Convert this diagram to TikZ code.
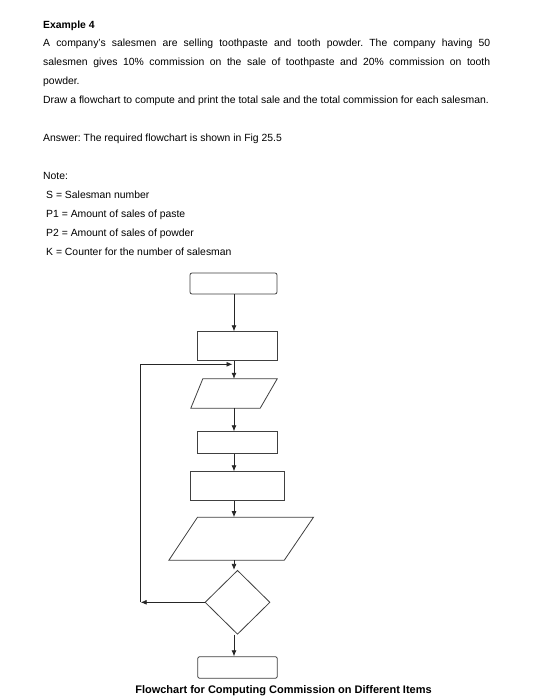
\documentclass[tikz,border=0pt]{standalone}
\usepackage{fontspec}
\setmainfont{Liberation Sans}
\usetikzlibrary{shapes.geometric,arrows.meta}
\frenchspacing
\begin{document}
\begin{tikzpicture}[x=1pt,y=-1pt,
  txt/.style={anchor=base west,inner sep=0pt,font=\fontsize{10.4}{12}\selectfont},
  captxt/.style={anchor=base,inner sep=0pt,font=\fontsize{11}{13}\selectfont\bfseries},
  sline/.style={draw=black!75,line width=0.8pt},
  term/.style={sline,rounded corners=2pt,inner sep=0pt},
  proc/.style={sline,inner sep=0pt},
  hold/.style={inner sep=0pt,draw=none},
  dec/.style={sline,diamond,inner sep=0pt,aspect=1},
  arr/.style={draw=black!85,line width=0.8pt,-{Latex[length=6pt,width=5pt]}}]
\useasboundingbox (0,0) rectangle (556,700);
\fill[white] (0,0) rectangle (556,700);
% texts
\node[txt] (t0) at (43,28.3) {\bfseries Example 4};
\node[txt] (t1) at (43,46.7) {\makebox[447pt][s]{A company's salesmen are selling toothpaste and tooth powder. The company having 50}};
\node[txt] (t2) at (43,65.7) {\makebox[447pt][s]{salesmen gives 10\% commission on the sale of toothpaste and 20\% commission on tooth}};
\node[txt] (t3) at (43,84.3) {powder.};
\node[txt] (t4) at (43,103.7) {Draw a flowchart to compute and print the total sale and the total commission for each salesman.};
\node[txt] (t5) at (43,141.7) {Answer: The required flowchart is shown in Fig 25.5};
\node[txt] (t6) at (43,179.3) {Note:};
\node[txt] (t7) at (46,199) {S = Salesman number};
\node[txt] (t8) at (46,217.3) {P1 = Amount of sales of paste};
\node[txt] (t9) at (46,236.3) {P2 = Amount of sales of powder};
\node[txt] (t10) at (46,255.7) {K = Counter for the number of salesman};
% shapes
\coordinate (spine) at (234,0);
\node[term,minimum width=87pt,minimum height=21pt] (start) at (233.5,283.5) {};
\node[proc,minimum width=80pt,minimum height=29pt] (r2) at (237,346.2) {};
\node[hold,minimum width=86pt,minimum height=29pt] (p1) at (234,393.5) {};
\draw[sline] ([xshift=12pt]p1.north west) -- (p1.north east) -- ([xshift=-17pt]p1.south east) -- (p1.south west) -- cycle;
\node[proc,minimum width=80pt,minimum height=21.6pt] (r3) at (237.3,442.5) {};
\node[proc,minimum width=94.7pt,minimum height=29pt] (r4) at (237.3,486.2) {};
\node[hold,minimum width=144.3pt,minimum height=42.7pt] (p2) at (241.2,538.7) {};
\draw[sline] ([xshift=28.7pt]p2.north west) -- (p2.north east) -- ([xshift=-29.3pt]p2.south east) -- (p2.south west) -- cycle;
\node[dec,minimum width=65pt,minimum height=64pt] (d) at (237.5,602.3) {};
\node[term,minimum width=79.6pt,minimum height=21.6pt] (end) at (237.5,667.5) {};
% connectors
\draw[arr] (start.south -| spine) -- (r2.north -| spine);
\draw[arr] (r2.south -| spine) -- (p1.north -| spine);
\draw[arr] (p1.south -| spine) -- (r3.north -| spine);
\draw[arr] (r3.south -| spine) -- (r4.north -| spine);
\draw[arr] (r4.south -| spine) -- (p2.north -| spine);
\draw[arr] (p2.south -| spine) -- (d.north -| spine);
\draw[arr] (d.south -| spine) -- (end.north -| spine);
\coordinate (loopx) at (140.7,0);
\coordinate (join) at (234,364.3);
\coordinate (c1) at (d.west -| loopx);
\draw[arr] (d.west) -- (c1);
\draw[arr,shorten >=1.5pt] (c1) -- (c1 |- join) -- (join);
% caption
\node[captxt] (capnode) at (283.5,693.3) {Flowchart for Computing Commission on Different Items};
\end{tikzpicture}
\end{document}
